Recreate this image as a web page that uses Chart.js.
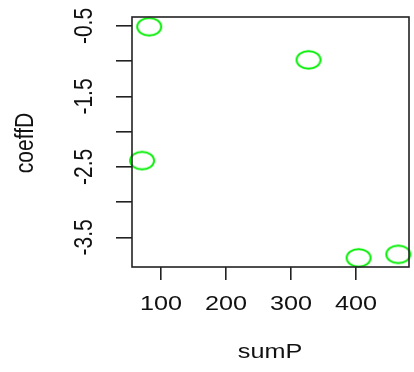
<!DOCTYPE html>
<html>
<head>
<meta charset="utf-8">
<script src="https://cdn.jsdelivr.net/npm/chart.js@4/dist/chart.umd.min.js"></script>
<style>
  html, body { margin: 0; padding: 0; background: #fff; }
</style>
</head>
<body>
<canvas id="plot" width="414" height="372"></canvas>
<script>
// data
const sumP = [82, 327, 71, 404, 465];
const coeffD = [-0.51, -0.98, -2.41, -3.79, -3.74];
const xTickValues = [100, 200, 300, 400];
const yTickValues = [-3.5, -3, -2.5, -2, -1.5, -1, -0.5];
const yTickLabels = ['-3.5', '', '-2.5', '', '-1.5', '', '-0.5'];

// the source picture is a bit stretched sideways
const STRETCH = 1.2;
const FONT = '21px "Liberation Sans", Arial, sans-serif';
const INK = '#111';

// open ellipse used as point marker
function makeRing() {
    const c = document.createElement('canvas');
    c.width = 28;
    c.height = 22;
    const g = c.getContext('2d');
    g.strokeStyle = '#00ee00';
    g.lineWidth = 1.9;
    g.beginPath();
    g.ellipse(14, 11, 12, 8.8, 0, 0, Math.PI * 2);
    g.stroke();
    return c;
}

function stretchedText(ctx, text, x, y, rot) {
    ctx.save();
    ctx.translate(x, y);
    ctx.scale(STRETCH, 1);
    if (rot) ctx.rotate(rot);
    ctx.fillText(text, 0, 0);
    ctx.restore();
}

// box, tick labels and axis titles like R base graphics
const rFrame = {
    id: 'rFrame',
    afterDraw(chart) {
        const ctx = chart.ctx;
        const a = chart.chartArea;
        const xs = chart.scales.x;
        const ys = chart.scales.y;
        ctx.save();
        ctx.strokeStyle = '#222';
        ctx.lineWidth = 1.6;
        ctx.strokeRect(a.left, a.top, a.right - a.left, a.bottom - a.top);

        ctx.fillStyle = INK;
        ctx.font = FONT;
        ctx.textAlign = 'center';
        ctx.textBaseline = 'middle';
        xTickValues.forEach(v => {
            stretchedText(ctx, String(v), xs.getPixelForValue(v), 304, 0);
        });
        yTickValues.forEach((v, i) => {
            if (yTickLabels[i]) {
                stretchedText(ctx, yTickLabels[i], 85, ys.getPixelForValue(v), -Math.PI / 2);
            }
        });
        stretchedText(ctx, 'sumP', 270, 352, 0);
        stretchedText(ctx, 'coeffD', 26, 143, -Math.PI / 2);
        ctx.restore();
    }
};

const points = sumP.map((x, i) => ({ x: x, y: coeffD[i] }));

new Chart(document.getElementById('plot'), {
    type: 'scatter',
    data: {
        datasets: [{
            data: points,
            pointStyle: makeRing(),
            clip: false
        }]
    },
    options: {
        responsive: false,
        animation: false,
        layout: { padding: { top: 17, right: 4, left: 0, bottom: 0 } },
        plugins: {
            legend: { display: false },
            tooltip: { enabled: false }
        },
        scales: {
            x: {
                type: 'linear',
                min: 55.5,
                max: 481.5,
                afterBuildTicks: s => { s.ticks = xTickValues.map(v => ({ value: v })); },
                afterFit: s => { s.height = 105; },
                ticks: { display: false },
                border: { display: false },
                grid: {
                    drawOnChartArea: false,
                    drawTicks: true,
                    tickLength: 13,
                    color: '#222',
                    lineWidth: 1.6
                }
            },
            y: {
                type: 'linear',
                min: -3.92,
                max: -0.372,
                afterBuildTicks: s => { s.ticks = yTickValues.map(v => ({ value: v })); },
                afterFit: s => { s.width = 132; },
                ticks: { display: false },
                border: { display: false },
                grid: {
                    drawOnChartArea: false,
                    drawTicks: true,
                    tickLength: 16,
                    color: '#222',
                    lineWidth: 1.6
                }
            }
        }
    },
    plugins: [rFrame]
});
</script>
</body>
</html>
